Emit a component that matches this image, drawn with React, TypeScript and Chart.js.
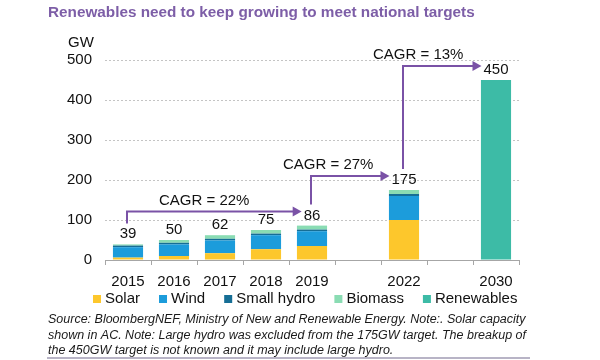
import { useEffect, useRef } from "react";
import { Chart, registerables } from "chart.js";

Chart.register(...registerables);

const categories = ["2015", "2016", "2017", "2018", "2019", "", "2022", "", "2030"];
const solar = [6, 10, 17, 27, 35, null, 100, null, null];
const wind = [26, 29, 32, 35, 37, null, 60, null, null];
const smallHydro = [4, 4, 4, 4, 4, null, 5, null, null];
const biomass = [3, 7, 9, 9, 10, null, 10, null, null];
const renewables = [null, null, null, null, null, null, null, null, 450];
const totalLabels = [39, 50, 62, 75, 86, null, 175, null, 450];
const cagrText = ["CAGR = 22%", "CAGR = 27%", "CAGR = 13%"];
const cagrFrom = [0, 4, 6];
const cagrTo = [4, 6, 8];
const yMin = 0;
const yMax = 500;
const yStep = 100;
const titleText = "Renewables need to keep growing to meet national targets";
const yUnit = "GW";
const footnote = [
  "Source: BloombergNEF, Ministry of New and Renewable Energy. Note:. Solar capacity",
  "shown in AC. Note: Large hydro was excluded from the 175GW target. The breakup of",
  "the 450GW target is not known and it may include large hydro.",
];

const FONT = '"Liberation Sans", Arial, Helvetica, sans-serif';
const PURPLE = "#7d5ea7";
const ARROW = "#7a52a6";
const TEXT = "#111111";

const cagrTextDx = [32, -28, -30];

const overlayPlugin = {
  id: "overlay",
  afterDraw(chart: any) {
    const ctx: CanvasRenderingContext2D = chart.ctx;
    const xs = chart.scales.x;
    const ys = chart.scales.y;
    ctx.save();

    // title
    ctx.font = `bold 15.3px ${FONT}`;
    ctx.fillStyle = PURPLE;
    ctx.textAlign = "left";
    ctx.textBaseline = "middle";
    ctx.fillText(titleText, 48, 13);

    // unit
    ctx.font = `15px ${FONT}`;
    ctx.fillStyle = TEXT;
    ctx.textAlign = "center";
    ctx.fillText(yUnit, 81, 43);

    // total labels
    const boxes: any[] = [];
    ctx.font = `15px ${FONT}`;
    ctx.textAlign = "center";
    ctx.textBaseline = "alphabetic";
    totalLabels.forEach((v, i) => {
      if (v == null) return;
      let sum = 0;
      chart.data.datasets.forEach((ds: any) => {
        const d = ds.data[i];
        if (d != null) sum += d;
      });
      const top = ys.getPixelForValue(sum);
      const cx = xs.getPixelForValue(i);
      const base = top - 6;
      const text = String(v);
      ctx.fillStyle = TEXT;
      ctx.fillText(text, cx, base);
      boxes[i] = { cx, base, w: ctx.measureText(text).width };
    });

    // CAGR arrows
    cagrText.forEach((t, k) => {
      const s = boxes[cagrFrom[k]];
      const e = boxes[cagrTo[k]];
      if (!s || !e) return;
      const vx = s.cx - 1;
      const y0 = s.base - 11 - 4;
      const hy = e.base - 8;
      const tip = e.cx - e.w / 2 - 2;
      ctx.strokeStyle = ARROW;
      ctx.lineWidth = 2;
      ctx.beginPath();
      ctx.moveTo(vx, y0);
      ctx.lineTo(vx, hy);
      ctx.lineTo(tip - 7, hy);
      ctx.stroke();
      ctx.fillStyle = ARROW;
      ctx.beginPath();
      ctx.moveTo(tip, hy);
      ctx.lineTo(tip - 9, hy - 5);
      ctx.lineTo(tip - 9, hy + 5);
      ctx.closePath();
      ctx.fill();
      ctx.fillStyle = TEXT;
      ctx.font = `15px ${FONT}`;
      ctx.textAlign = "left";
      ctx.textBaseline = "middle";
      ctx.fillText(t, vx + cagrTextDx[k], hy - 11);
    });

    // legend
    ctx.font = `15px ${FONT}`;
    ctx.textAlign = "left";
    ctx.textBaseline = "middle";
    let lx = 93;
    const ly = 299;
    chart.data.datasets.forEach((ds: any) => {
      ctx.fillStyle = ds.backgroundColor;
      ctx.fillRect(lx, ly - 4, 8, 8);
      ctx.fillStyle = TEXT;
      ctx.fillText(ds.label, lx + 12, ly);
      lx += 12 + ctx.measureText(ds.label).width + 19;
    });

    // footnote
    ctx.font = `italic 12.5px ${FONT}`;
    ctx.fillStyle = "#1a1a1a";
    const fy = [320, 336, 351];
    footnote.forEach((line, i) => ctx.fillText(line, 48, fy[i]));
    ctx.strokeStyle = "#b8b4c6";
    ctx.lineWidth = 2;
    ctx.beginPath();
    ctx.moveTo(47, 358);
    ctx.lineTo(530, 358);
    ctx.stroke();

    ctx.restore();
  },
};

export default function App() {
  const ref = useRef<HTMLCanvasElement | null>(null);
  useEffect(() => {
    if (!ref.current) return;
    const mk = (label: string, data: any[], color: string) => ({
      label,
      data,
      backgroundColor: color,
      borderWidth: 0,
      barPercentage: 0.655,
      categoryPercentage: 1,
      skipNull: true,
    });
    const chart = new Chart(ref.current, {
      type: "bar",
      data: {
        labels: categories,
        datasets: [
          mk("Solar", solar, "#fdc72c"),
          mk("Wind", wind, "#1c9cdb"),
          mk("Small hydro", smallHydro, "#166e95"),
          mk("Biomass", biomass, "#8adcb3"),
          mk("Renewables", renewables, "#3dbba6"),
        ],
      },
      options: {
        animation: false,
        responsive: false,
        devicePixelRatio: 1,
        layout: { padding: { top: 60, left: 0, right: 81, bottom: 70 } },
        plugins: {
          legend: { display: false },
          title: { display: false },
          tooltip: { enabled: false },
        },
        scales: {
          x: {
            stacked: true,
            afterFit: (s: any) => {
              s.height = 30;
            },
            grid: {
              offset: true,
              drawOnChartArea: false,
              drawTicks: true,
              tickLength: 5,
              color: "#a6a6a6",
            },
            border: { display: true, color: "#a6a6a6", width: 1 },
            ticks: {
              font: { family: FONT, size: 15 },
              color: TEXT,
              padding: 8,
              maxRotation: 0,
              autoSkip: false,
            },
          },
          y: {
            stacked: true,
            min: yMin,
            max: yMax,
            afterFit: (s: any) => {
              s.width = 105;
            },
            ticks: {
              stepSize: yStep,
              font: { family: FONT, size: 15 },
              color: TEXT,
              padding: 13,
            },
            grid: {
              drawTicks: false,
              color: "#c4c4c4",
              lineWidth: 1,
            },
            border: { display: false, dash: [2, 2] },
          },
        },
      },
      plugins: [overlayPlugin],
    });
    return () => chart.destroy();
  }, []);
  return (
    <div style={{ position: "absolute", left: 0, top: 0, width: 600, height: 360, background: "#fff" }}>
      <canvas ref={ref} width={600} height={360} style={{ display: "block" }} />
    </div>
  );
}
